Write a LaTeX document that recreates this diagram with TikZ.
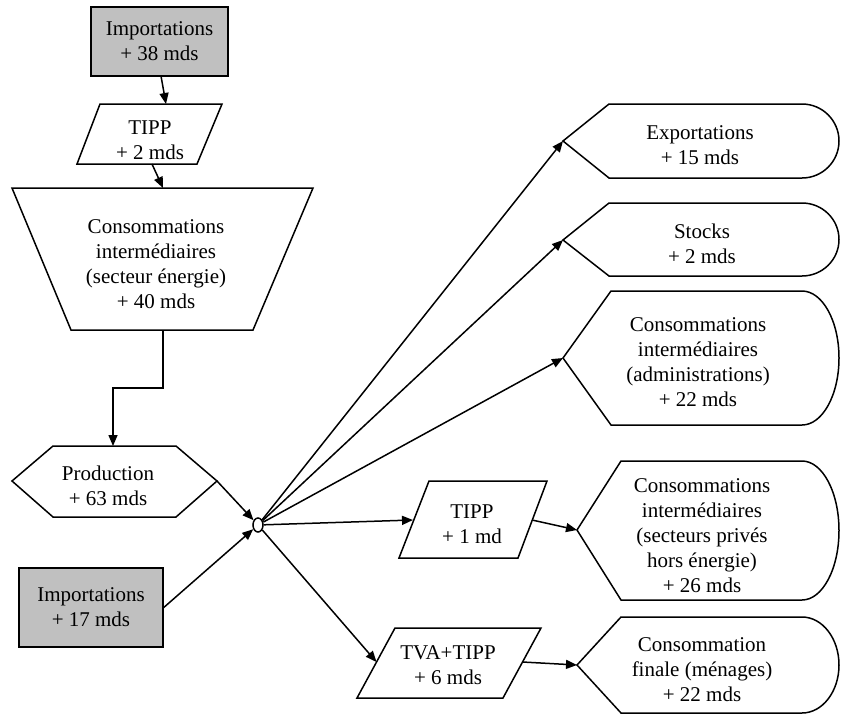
\documentclass[tikz,border=0pt]{standalone}
\usepackage{fontspec}
\setmainfont{Liberation Serif}
\usetikzlibrary{shapes.geometric,arrows.meta}
\definecolor{impgray}{HTML}{C0C0C0}
\tikzset{
  lbl/.style={font=\fontsize{21}{25}\selectfont, align=center, inner sep=0pt},
  outline/.style={draw=black, line width=1.5pt},
  grayfill/.style={outline, fill=impgray},
  flow/.style={line width=1.5pt, -{Triangle[length=11pt,width=9pt]}},
  hubstyle/.style={ellipse, draw=black, line width=1.5pt, minimum width=10pt, minimum height=14pt, inner sep=0pt}
}
\begin{document}
\begin{tikzpicture}[x=1pt,y=1pt]
\useasboundingbox (0,0) rectangle (841,-715);

% Importations (top)
\node[grayfill, lbl, minimum width=137pt, minimum height=69pt] (imp1) at (159.5,-41.5) {Importations\\+ 38 mds};
\coordinate (imp1-s) at (161,-76);

% TIPP (top)
\draw[outline] (100,-104) -- (222,-104) -- (197,-164) -- (77,-164) -- cycle;
\node[lbl] (tipp1) at (150,-140) {TIPP\\+ 2 mds};
\coordinate (tipp1-n) at (166,-104);
\coordinate (tipp1-s) at (152,-164);

% Consommations intermediaires (secteur energie)
\draw[outline] (12,-188) -- (313,-188) -- (253,-330) -- (71,-330) -- cycle;
\node[lbl] (ci) at (156,-264) {Consommations\\intermédiaires\\(secteur énergie)\\+ 40 mds};
\coordinate (ci-n) at (163,-188);
\coordinate (ci-s) at (163,-330);

% Production
\draw[outline] (12,-481) -- (53,-446) -- (176,-446) -- (217,-481) -- (176,-517) -- (53,-517) -- cycle;
\node[lbl] (prod) at (108,-486) {Production\\+ 63 mds};
\coordinate (prod-n) at (113,-446);
\coordinate (prod-e) at (217,-481);

% hub
\node[hubstyle] (hub) at (258,-525) {};

% Importations (bottom)
\node[grayfill, lbl, minimum width=144pt, minimum height=79pt] (imp2) at (91,-607.5) {Importations\\+ 17 mds};

% Exportations
\draw[outline] (563,-141) -- (609,-104) -- (802,-104) arc[start angle=90, end angle=-90, x radius=37pt, y radius=37pt] -- (609,-178) -- cycle;
\node[lbl] (exp) at (700,-145) {Exportations\\+ 15 mds};
\coordinate (exp-w) at (563,-141);

% Stocks
\draw[outline] (563,-240) -- (609,-203) -- (802,-203) arc[start angle=90, end angle=-90, x radius=37pt, y radius=36.5pt] -- (609,-276) -- cycle;
\node[lbl] (stk) at (702,-244) {Stocks\\+ 2 mds};
\coordinate (stk-w) at (563,-240);

% Consommations intermediaires (administrations)
\draw[outline] (563,-358) -- (611,-291) -- (802,-291) arc[start angle=90, end angle=-90, x radius=37pt, y radius=67pt] -- (611,-425) -- cycle;
\node[lbl] (adm) at (698,-362) {Consommations\\intermédiaires\\(administrations)\\+ 22 mds};
\coordinate (adm-w) at (563,-358);

% TIPP (middle)
\draw[outline] (429,-481) -- (547,-481) -- (518,-558) -- (399,-558) -- cycle;
\node[lbl] (tipp2) at (472,-524) {TIPP\\+ 1 md};
\coordinate (tipp2-w) at (413,-520);
\coordinate (tipp2-e) at (532,-520);

% Consommations intermediaires (secteurs prives hors energie)
\draw[outline] (577,-530) -- (621,-461) -- (802,-461) arc[start angle=90, end angle=-90, x radius=37pt, y radius=69.5pt] -- (621,-600) -- cycle;
\node[lbl] (priv) at (702,-536) {Consommations\\intermédiaires\\(secteurs privés\\hors énergie)\\+ 26 mds};
\coordinate (priv-w) at (577,-530);

% TVA+TIPP
\draw[outline] (395,-628) -- (541,-628) -- (503,-698) -- (357,-698) -- cycle;
\node[lbl] (tva) at (448,-665) {TVA+TIPP\\+ 6 mds};
\coordinate (tva-w) at (376.5,-662);
\coordinate (tva-e) at (522.5,-662);

% Consommation finale (menages)
\draw[outline] (577,-665) -- (621,-617) -- (802,-617) arc[start angle=90, end angle=-90, x radius=37pt, y radius=48pt] -- (621,-713) -- cycle;
\node[lbl] (fin) at (702,-670) {Consommation\\finale (ménages)\\+ 22 mds};
\coordinate (fin-w) at (577,-665);

% connectors
\draw[flow] (imp1-s) -- (tipp1-n);
\draw[flow] (tipp1-s) -- (ci-n);
\draw[flow] (ci-s) -- ++(0,-58) -| (prod-n);
\draw[flow] (prod-e) -- (hub);
\draw[flow] (imp2.east) -- (hub);
\draw[flow] (hub) -- (exp-w);
\draw[flow] (hub) -- (stk-w);
\draw[flow] (hub) -- (adm-w);
\draw[flow] (hub) -- (tipp2-w);
\draw[flow] (hub) -- (tva-w);
\draw[flow] (tipp2-e) -- (priv-w);
\draw[flow] (tva-e) -- (fin-w);
\end{tikzpicture}
\end{document}
